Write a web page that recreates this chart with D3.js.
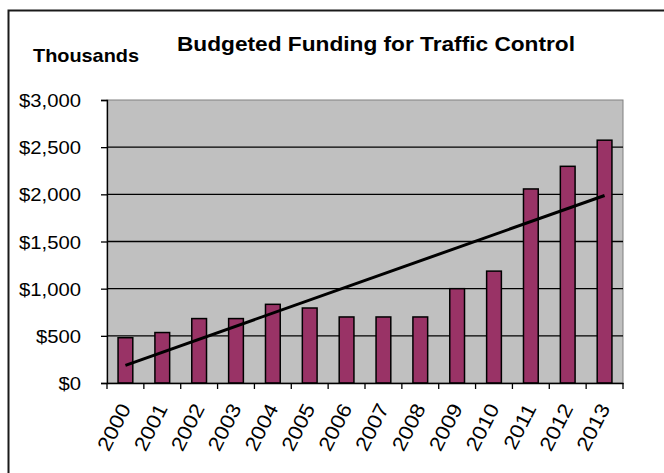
<!DOCTYPE html>
<html>
<head>
<meta charset="utf-8">
<script src="https://cdn.jsdelivr.net/npm/d3@7"></script>
<style>
  body { margin: 0; background: #fff; }
  text { font-family: "Liberation Sans", Arial, sans-serif; fill: #000; }
</style>
</head>
<body>
<svg width="664" height="473"></svg>
<script>
// data (thousands of dollars)
var years = ["2000", "2001", "2002", "2003", "2004", "2005", "2006",
             "2007", "2008", "2009", "2010", "2011", "2012", "2013"];
var funding = [480, 535, 683, 683, 834, 795, 700, 700, 700, 1000, 1186, 2057, 2297, 2574];
var yTicks = [0, 500, 1000, 1500, 2000, 2500, 3000];

var svg = d3.select("svg");

svg.append("rect").attr("width", 664).attr("height", 473).attr("fill", "#fff");

// outer chart border (runs off the right and bottom edges)
svg.append("rect")
  .attr("x", 8.5).attr("y", 10.5)
  .attr("width", 700).attr("height", 500)
  .attr("fill", "none").attr("stroke", "#1a1a1a").attr("stroke-width", 2);

var plotL = 107, plotR = 623, plotT = 100, plotB = 383;

var x = d3.scaleBand().domain(years).range([plotL, plotR]).paddingInner(0).paddingOuter(0);
var y = d3.scaleLinear().domain([0, 3000]).range([plotB, plotT]);

// plot area
svg.append("rect")
  .attr("x", plotL).attr("y", plotT)
  .attr("width", plotR - plotL).attr("height", plotB - plotT)
  .attr("fill", "#c0c0c0").attr("stroke", "#808080").attr("stroke-width", 1);

// gridlines
svg.append("g").selectAll("line")
  .data(yTicks.filter(function(d) { return d > 0 && d < 3000; }))
  .enter().append("line")
  .attr("x1", plotL).attr("x2", plotR)
  .attr("y1", function(d) { return y(d); })
  .attr("y2", function(d) { return y(d); })
  .attr("stroke", "#000").attr("stroke-width", 1.3);

// bars, gap width 150%
var barW = x.bandwidth() / 2.5;
svg.append("g").selectAll("rect")
  .data(funding)
  .enter().append("rect")
  .attr("x", function(d, i) { return x(years[i]) + (x.bandwidth() - barW) / 2; })
  .attr("y", function(d) { return y(d); })
  .attr("width", barW)
  .attr("height", function(d) { return y(0) - y(d); })
  .attr("fill", "#993366").attr("stroke", "#000").attr("stroke-width", 1.5);

// linear trendline (least squares)
var n = funding.length;
var mx = d3.mean(funding, function(d, i) { return i; });
var my = d3.mean(funding);
var sxy = 0, sxx = 0;
funding.forEach(function(d, i) { sxy += (i - mx) * (d - my); sxx += (i - mx) * (i - mx); });
var slope = sxy / sxx, icpt = my - slope * mx;
svg.append("line")
  .attr("x1", x(years[0]) + x.bandwidth() / 2)
  .attr("y1", y(icpt))
  .attr("x2", x(years[n - 1]) + x.bandwidth() / 2)
  .attr("y2", y(icpt + slope * (n - 1)))
  .attr("stroke", "#000").attr("stroke-width", 3);

// y axis
var yAxis = svg.append("g")
  .attr("transform", "translate(" + plotL + ",0)")
  .call(d3.axisLeft(y).tickValues(yTicks).tickSize(6).tickPadding(0).tickFormat(function(d) { return ""; }));
yAxis.selectAll("line, path").attr("stroke", "#000").attr("stroke-width", 1.3);

// y labels - the source text is drawn a bit wide, so stretch to match
var yLab = svg.append("g").selectAll("text")
  .data(yTicks)
  .enter().append("text")
  .attr("text-anchor", "end")
  .attr("font-size", 18)
  .text(function(d) { return d3.format("$,")(d); });
var ySx = 62 / yLab.nodes()[yTicks.length - 1].getComputedTextLength();
yLab.attr("transform", function(d) { return "translate(81," + (y(d) + 7) + ") scale(" + ySx + ",1)"; });

// x axis with ticks at category edges
var xAxis = svg.append("g")
  .attr("transform", "translate(0," + plotB + ")")
  .call(d3.axisBottom(x).tickSize(0).tickFormat(""));
xAxis.selectAll("path").attr("stroke", "#000").attr("stroke-width", 1.3);
xAxis.selectAll("line.edge")
  .data(years.concat(["end"]))
  .enter().append("line")
  .attr("class", "edge")
  .attr("x1", function(d, i) { return plotL + i * x.bandwidth(); })
  .attr("x2", function(d, i) { return plotL + i * x.bandwidth(); })
  .attr("y1", 0).attr("y2", 6)
  .attr("stroke", "#000").attr("stroke-width", 1.3);

// rotated year labels
var xLab = svg.append("g").selectAll("text")
  .data(years)
  .enter().append("text")
  .attr("text-anchor", "end")
  .attr("font-size", 20)
  .text(function(d) { return d; });
var xSx = 50 / xLab.nodes()[0].getComputedTextLength();
xLab.attr("transform", function(d) {
    return "translate(" + (x(d) + x.bandwidth() / 2 + 6) + "," + (plotB + 25) + ") rotate(-63) scale(" + xSx + ",1)";
  });

// title and unit label
svg.append("text")
  .attr("x", 376).attr("y", 51)
  .attr("text-anchor", "middle")
  .attr("font-size", 20).attr("font-weight", "bold")
  .attr("textLength", 398).attr("lengthAdjust", "spacingAndGlyphs")
  .text("Budgeted Funding for Traffic Control");

svg.append("text")
  .attr("x", 33).attr("y", 62)
  .attr("font-size", 18.6).attr("font-weight", "bold")
  .attr("textLength", 106).attr("lengthAdjust", "spacingAndGlyphs")
  .text("Thousands");
</script>
</body>
</html>
